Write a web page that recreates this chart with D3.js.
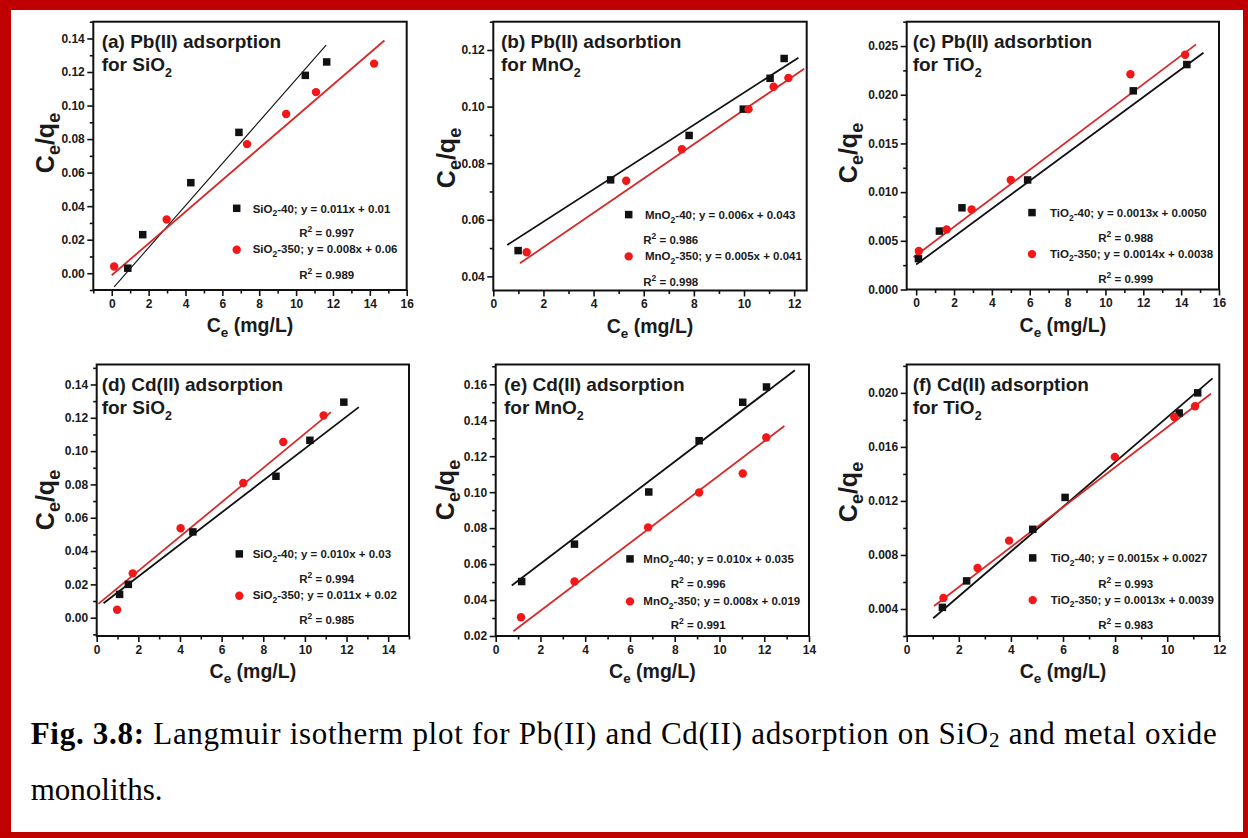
<!DOCTYPE html>
<html><head><meta charset="utf-8">
<script src="https://cdn.jsdelivr.net/npm/d3@7"></script>
<style>body{margin:0;background:#fff}svg{display:block}</style>
</head><body>
<svg id="chart" width="1248" height="838"></svg>
<script>
// ---------- DATA ----------
const materials = ["SiO", "MnO", "TiO", "SiO", "MnO", "TiO"]; // followed by subscript 2
const titleLines = ["(a) Pb(II) adsorption", "(b) Pb(II) adsorbtion", "(c) Pb(II) adsorbtion",
                    "(d) Cd(II) adsorption", "(e) Cd(II) adsorption", "(f) Cd(II) adsorption"];
const eq40  = ["y = 0.011x + 0.01", "y = 0.006x + 0.043", "y = 0.0013x + 0.0050",
               "y = 0.010x + 0.03", "y = 0.010x + 0.035", "y = 0.0015x + 0.0027"];
const eq350 = ["y = 0.008x + 0.06", "y = 0.005x + 0.041", "y = 0.0014x + 0.0038",
               "y = 0.011x + 0.02", "y = 0.008x + 0.019", "y = 0.0013x + 0.0039"];
const r2_40  = ["0.997", "0.986", "0.988", "0.994", "0.996", "0.993"];
const r2_350 = ["0.989", "0.998", "0.999", "0.985", "0.991", "0.983"];

// (a) Pb / SiO2
const a40  = [[0.87,0.003],[1.68,0.023],[4.29,0.054],[6.9,0.084],[10.5,0.118],[11.66,0.126]];
const a350 = [[0.13,0.004],[2.98,0.032],[7.34,0.077],[9.46,0.095],[11.08,0.108],[14.23,0.125]];
const aFit40  = [[0.13,-0.0082],[11.63,0.136]];
const aFit350 = [[0,-0.0012],[14.79,0.1388]];
// (b) Pb / MnO2
const b40  = [[0.99,0.0491],[4.68,0.0741],[7.81,0.0898],[9.97,0.0991],[11.04,0.110],[11.6,0.117]];
const b350 = [[1.33,0.0485],[5.3,0.0738],[7.52,0.0849],[10.18,0.0991],[11.18,0.107],[11.77,0.1101]];
const bFit40  = [[0.557,0.0511],[12.17,0.1173]];
const bFit350 = [[1.06,0.0446],[12.4,0.1134]];
// (c) Pb / TiO2
const c40  = [[0.12,0.00317],[1.23,0.0060],[2.42,0.00839],[5.89,0.01125],[11.47,0.0204],[14.3,0.0231]];
const c350 = [[0.14,0.00396],[1.61,0.00617],[2.93,0.00822],[5.0,0.01125],[11.32,0.0221],[14.21,0.0241]];
const cFit40  = [[0,0.00256],[15.18,0.02432]];
const cFit350 = [[-0.14,0.00331],[14.79,0.02517]];
// (d) Cd / SiO2
const d40  = [[1.10,0.014],[1.52,0.020],[4.62,0.0515],[8.61,0.0849],[10.24,0.1065],[11.87,0.1294]];
const d350 = [[0.98,0.0048],[1.73,0.0266],[4.03,0.0537],[7.04,0.0809],[8.96,0.1055],[10.9,0.1214]];
const dFit40  = [[0.33,0.0087],[12.59,0.1264]];
const dFit350 = [[0.08,0.0083],[11.25,0.1234]];
// (e) Cd / MnO2
const e40  = [[1.16,0.0503],[3.52,0.0711],[6.84,0.1001],[9.09,0.1286],[11.04,0.150],[12.1,0.1585]];
const e350 = [[1.13,0.0304],[3.52,0.0503],[6.81,0.0804],[9.09,0.0998],[11.04,0.1104],[12.09,0.1304]];
const eFit40  = [[0.72,0.0481],[13.37,0.1678]];
const eFit350 = [[0.79,0.0226],[12.9,0.1368]];
// (f) Cd / TiO2
const f40  = [[1.37,0.00412],[2.30,0.00608],[4.84,0.0099],[6.08,0.01226],[10.46,0.01851],[11.17,0.0200]];
const f350 = [[1.41,0.00482],[2.72,0.00703],[3.93,0.00906],[7.99,0.01526],[10.27,0.01821],[11.07,0.01901]];
const fFit40  = [[1.02,0.00331],[11.74,0.02107]];
const fFit350 = [[1.05,0.00422],[11.68,0.01993]];

// tick values
const xTicksA = [0,2,4,6,8,10,12,14,16];
const xTicksB = [0,2,4,6,8,10,12];
const xTicksC = [0,2,4,6,8,10,12,14,16];
const xTicksD = [0,2,4,6,8,10,12,14];
const xTicksE = [0,2,4,6,8,10,12,14];
const xTicksF = [0,2,4,6,8,10,12];
const yTicksA = [0,0.02,0.04,0.06,0.08,0.10,0.12,0.14];
const yTicksB = [0.04,0.06,0.08,0.10,0.12];
const yTicksC = [0,0.005,0.010,0.015,0.020,0.025];
const yTicksD = [0,0.02,0.04,0.06,0.08,0.10,0.12,0.14];
const yTicksE = [0.02,0.04,0.06,0.08,0.10,0.12,0.14,0.16];
const yTicksF = [0.004,0.008,0.012,0.016,0.020];

const captionLine1 = [["Fig. 3.8:", "b"], [" Langmuir isotherm plot for Pb(II) and Cd(II) adsorption on SiO", ""], ["2", "sub"], [" and metal oxide", ""]];
const captionLine2 = "monoliths.";

// ---------- LAYOUT ----------
const panels = [
  {s40:a40, s350:a350, f40:aFit40, f350:aFit350, xd:[-1,16], yd:[-0.01,0.15], xt:xTicksA, yt:yTicksA, xm:1, ym:0.01, fmt:".2f",
   L:93.3, R:406.7, T:21.7, B:290, tdx:8.4, ylx:-39, yly:143,
   leg:{mx:236.7, tx:252.7, rx:299.3, y1:212.7, r1:237.3, y2:253.3, r2:279.3}},
  {s40:b40, s350:b350, f40:bFit40, f350:bFit350, xd:[0,12.5], yd:[0.035,0.13], xt:xTicksB, yt:yTicksB, xm:1, ym:0.01, fmt:".2f",
   L:493.3, R:806.7, T:21.7, B:290.5, tdx:7.7, ylx:-38, yly:158,
   leg:{mx:628.7, tx:645, rx:643.3, y1:219, r1:244, y2:260, r2:285.7}},
  {s40:c40, s350:c350, f40:cFit40, f350:cFit350, xd:[-0.5,16], yd:[0,0.0275], xt:xTicksC, yt:yTicksC, xm:1, ym:0.0025, fmt:".3f",
   L:906.7, R:1219, T:21.7, B:289.5, tdx:6, ylx:-50, yly:153,
   leg:{mx:1032, tx:1050, rx:1098.3, y1:217, r1:242.3, y2:257.7, r2:283.3}},
  {s40:d40, s350:d350, f40:dFit40, f350:dFit350, xd:[0,15], yd:[-0.011,0.152], xt:xTicksD, yt:yTicksD, xm:1, ym:0.01, fmt:".2f",
   L:96.7, R:409, T:364.5, B:636, tdx:5, ylx:-42.7, yly:500,
   leg:{mx:239.3, tx:252.7, rx:299.3, y1:558.3, r1:583, y2:599.3, r2:624.3}},
  {s40:e40, s350:e350, f40:eFit40, f350:eFit350, xd:[0,14], yd:[0.02,0.171], xt:xTicksE, yt:yTicksE, xm:1, ym:0.01, fmt:".2f",
   L:495.7, R:809, T:364.5, B:636, tdx:8.3, ylx:-42, yly:490,
   leg:{mx:630, tx:643.3, rx:670.7, y1:563.3, r1:588.3, y2:605, r2:629.3}},
  {s40:f40, s350:f350, f40:fFit40, f350:fFit350, xd:[0,12], yd:[0.002,0.0221], xt:xTicksF, yt:yTicksF, xm:1, ym:0.002, fmt:".3f",
   L:906.7, R:1219.3, T:364.5, B:636, tdx:6, ylx:-50, yly:492,
   leg:{mx:1032.7, tx:1050.7, rx:1098.3, y1:562.3, r1:587.7, y2:603.7, r2:629.3}}
];

const FONT = "'Liberation Sans', Arial, Helvetica, sans-serif";
const RED_PT = "#f01818", RED_LN = "#d42a2a", INK = "#111";
const svg = d3.select("#chart");
svg.append("rect").attr("width",1248).attr("height",838).attr("fill","#fff");

function rich(text, parts, size, subSize, subShift, supShift) {
  let cur = 0;
  parts.forEach(([t, m]) => {
    const target = m === "sub" ? subShift : m === "sup" ? -supShift : 0;
    const ts = text.append("tspan").attr("dy", target - cur)
      .attr("font-size", (m === "sub" || m === "sup") ? subSize : size).text(t);
    if (m === "b") ts.attr("font-weight", "bold");
    cur = target;
  });
}

panels.forEach((p, i) => {
  const x = d3.scaleLinear().domain(p.xd).range([p.L, p.R]);
  const y = d3.scaleLinear().domain(p.yd).range([p.B, p.T]);
  const g = svg.append("g");

  // minor ticks
  const xMinor = d3.range(Math.ceil(p.xd[0]), p.xd[1] + 1e-9, p.xm).filter(v => !p.xt.some(t => Math.abs(t - v) < 1e-9));
  const yMinor = d3.range(p.yt[0] - p.ym * Math.floor((p.yt[0] - p.yd[0]) / p.ym), p.yd[1] + 1e-12, p.ym)
      .filter(v => v >= p.yd[0] - 1e-12 && !p.yt.some(t => Math.abs(t - v) < 1e-9));
  const gxm = g.append("g").attr("transform", `translate(0,${p.B})`)
    .call(d3.axisBottom(x).tickValues(xMinor).tickSize(3.5).tickFormat(""));
  const gym = g.append("g").attr("transform", `translate(${p.L},0)`)
    .call(d3.axisLeft(y).tickValues(yMinor).tickSize(3.5).tickFormat(""));
  // major ticks
  const gx = g.append("g").attr("transform", `translate(0,${p.B})`)
    .call(d3.axisBottom(x).tickValues(p.xt).tickSize(6).tickPadding(3).tickFormat(d3.format("d")));
  const gy = g.append("g").attr("transform", `translate(${p.L},0)`)
    .call(d3.axisLeft(y).tickValues(p.yt).tickSize(6).tickPadding(2.5).tickFormat(d3.format(p.fmt)));
  [gxm, gym, gx, gy].forEach(a => {
    a.select(".domain").remove();
    a.selectAll("line").attr("stroke", INK).attr("stroke-width", 1.6);
    a.selectAll("text").attr("fill", "#1a1a1a").attr("font-family", FONT)
      .attr("font-weight", "bold").attr("font-size", 12);
  });

  // fit lines
  const line = d3.line().x(d => x(d[0])).y(d => y(d[1]));
  g.append("path").datum(p.f40).attr("d", line).attr("fill", "none").attr("stroke", INK)
    .attr("stroke-width", i === 0 ? 1.1 : 1.8);
  g.append("path").datum(p.f350).attr("d", line).attr("fill", "none").attr("stroke", RED_LN)
    .attr("stroke-width", 1.8);

  // points
  const sq = 7.5;
  g.selectAll("rect.s40").data(p.s40).join("rect").attr("class", "s40")
    .attr("x", d => x(d[0]) - sq / 2).attr("y", d => y(d[1]) - sq / 2)
    .attr("width", sq).attr("height", sq).attr("fill", INK);
  g.selectAll("circle.s350").data(p.s350).join("circle").attr("class", "s350")
    .attr("cx", d => x(d[0])).attr("cy", d => y(d[1])).attr("r", 4.2).attr("fill", RED_PT);

  // frame
  g.append("rect").attr("x", p.L).attr("y", p.T).attr("width", p.R - p.L).attr("height", p.B - p.T)
    .attr("fill", "none").attr("stroke", INK).attr("stroke-width", 2);

  // title
  g.append("text").attr("x", p.L + p.tdx).attr("y", p.T + 26)
    .attr("font-family", FONT).attr("font-weight", "bold").attr("font-size", 19).attr("fill", "#1a1a1a")
    .text(titleLines[i]);
  const t2 = g.append("text").attr("x", p.L + p.tdx).attr("y", p.T + 49)
    .attr("font-family", FONT).attr("font-weight", "bold").attr("fill", "#1a1a1a");
  rich(t2, [["for " + materials[i], ""], ["2", "sub"]], 19, 12.5, 6, 0);

  // axis titles
  const xt = g.append("text").attr("x", (p.L + p.R) / 2).attr("y", p.B + 42).attr("text-anchor", "middle")
    .attr("font-family", FONT).attr("font-weight", "bold").attr("fill", "#1a1a1a");
  rich(xt, [["C", ""], ["e", "sub"], [" (mg/L)", ""]], 19.5, 13.5, 5, 0);
  const yt = g.append("text")
    .attr("transform", `translate(${p.L + p.ylx},${p.yly}) rotate(-90)`).attr("text-anchor", "middle")
    .attr("font-family", FONT).attr("font-weight", "bold").attr("fill", "#1a1a1a");
  rich(yt, [["C", ""], ["e", "sub"], ["/q", ""], ["e", "sub"]], 25, 18, 6, 0);

  // legend
  const lg = p.leg;
  g.append("rect").attr("x", lg.mx - 3.75).attr("y", lg.y1 - 4.4 - 3.75).attr("width", 7.5).attr("height", 7.5).attr("fill", INK);
  g.append("circle").attr("cx", lg.mx).attr("cy", lg.y2 - 3.6).attr("r", 4.2).attr("fill", RED_PT);
  const lfs = 11.5, lsub = 8.5, lsh = 3.5, lsup = 5;
  const l1 = g.append("text").attr("x", lg.tx).attr("y", lg.y1).attr("font-family", FONT).attr("font-weight", "bold").attr("fill", "#1a1a1a");
  rich(l1, [[materials[i], ""], ["2", "sub"], ["-40; " + eq40[i], ""]], lfs, lsub, lsh, lsup);
  const r1 = g.append("text").attr("x", lg.rx).attr("y", lg.r1).attr("font-family", FONT).attr("font-weight", "bold").attr("fill", "#1a1a1a");
  rich(r1, [["R", ""], ["2", "sup"], [" = " + r2_40[i], ""]], lfs, lsub, lsh, lsup);
  const l2 = g.append("text").attr("x", lg.tx).attr("y", lg.y2).attr("font-family", FONT).attr("font-weight", "bold").attr("fill", "#1a1a1a");
  rich(l2, [[materials[i], ""], ["2", "sub"], ["-350; " + eq350[i], ""]], lfs, lsub, lsh, lsup);
  const r2 = g.append("text").attr("x", lg.rx).attr("y", lg.r2).attr("font-family", FONT).attr("font-weight", "bold").attr("fill", "#1a1a1a");
  rich(r2, [["R", ""], ["2", "sup"], [" = " + r2_350[i], ""]], lfs, lsub, lsh, lsup);
});

// caption
const SERIF = "'Liberation Serif', 'Times New Roman', Times, serif";
const cap1 = svg.append("text").attr("x", 30.7).attr("y", 744).attr("font-family", SERIF).attr("fill", "#000")
  .attr("textLength", 1186).attr("lengthAdjust", "spacing");
rich(cap1, captionLine1, 31, 21, 3, 0);
svg.append("text").attr("x", 30.7).attr("y", 800).attr("font-family", SERIF).attr("font-size", 31).attr("fill", "#000")
  .text(captionLine2);

// red frame
const FR = "#c00000";
svg.append("rect").attr("x", 0).attr("y", 0).attr("width", 1248).attr("height", 10).attr("fill", FR);
svg.append("rect").attr("x", 0).attr("y", 0).attr("width", 11).attr("height", 838).attr("fill", FR);
svg.append("rect").attr("x", 1243).attr("y", 0).attr("width", 5).attr("height", 838).attr("fill", FR);
svg.append("rect").attr("x", 0).attr("y", 832).attr("width", 1248).attr("height", 6).attr("fill", FR);
</script>
</body></html>
